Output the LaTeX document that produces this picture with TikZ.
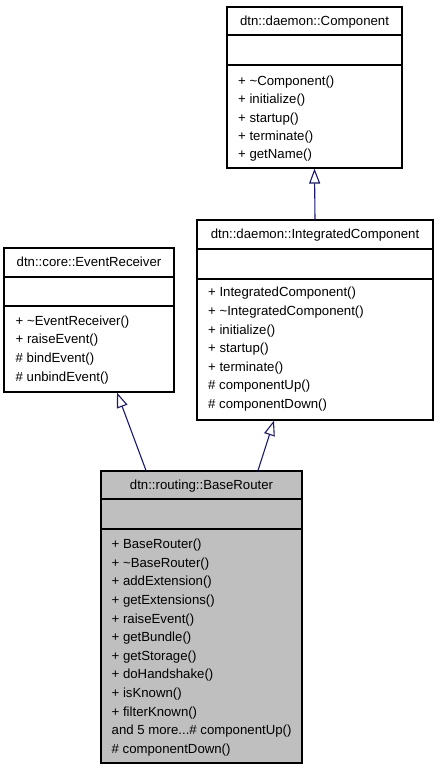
\documentclass[tikz,border=0pt]{standalone}
\usepackage{fontspec}
\setmainfont{Liberation Sans}
\usetikzlibrary{arrows.meta}
\definecolor{edgeblue}{HTML}{191970}
\definecolor{classgray}{HTML}{BFBFBF}
\newcommand{\moredots}{...}

\begin{document}
\begin{tikzpicture}[x=1bp,y=-1bp]
    % Stili per le classi e le frecce
    \tikzset{
        class box/.style 2 args={
            draw=black,
            line width=1.1bp,
            inner sep=0pt,
            minimum width=#1,
            minimum height=#2
        },
        class title/.style={
            anchor=base,
            inner sep=0pt,
            font=\fontsize{13.2bp}{15bp}\selectfont
        },
        member/.style={
            anchor=base west,
            inner sep=0pt,
            font=\fontsize{13.2bp}{15bp}\selectfont
        },
        sep line/.style={draw=black, line width=1.1bp},
        inherit/.style={
            draw=edgeblue,
            line width=1.1bp,
            -{Triangle[open, length=15bp, width=11bp]}
        }
    }
    \useasboundingbox (0,0) rectangle (437,771);

    % dtn::daemon::Component
    \node[class box={175bp}{161bp}, fill=white] (comp) at (314.5,87.5) {};
    \node[class title] (comp-title) at (314.5,25.5) {dtn::daemon::Component};
    \draw[sep line] (227,35) -- (402,35);
    \draw[sep line] (227,65) -- (402,65);
    \foreach \m [count=\i from 0] in {+ \textasciitilde Component(), + initialize(),
        + startup(), + terminate(), + getName()}
        \node[member] (comp-m\i) at (238,85.2+18.4*\i) {\m};

    % dtn::daemon::IntegratedComponent
    \node[class box={236bp}{200bp}, fill=white] (intc) at (315,320) {};
    \node[class title] (intc-title) at (315,238.2) {dtn::daemon::IntegratedComponent};
    \draw[sep line] (197,249) -- (433,249);
    \draw[sep line] (197,279) -- (433,279);
    \foreach \m [count=\i from 0] in {+ IntegratedComponent(), + \textasciitilde IntegratedComponent(),
        + initialize(), + startup(), + terminate(), \# componentUp(), \# componentDown()}
        \node[member] (intc-m\i) at (208,296.8+18.6*\i) {\m};

    % dtn::core::EventReceiver
    \node[class box={170bp}{144bp}, fill=white] (evr) at (89,320) {};
    \node[class title] (evr-title) at (89,266.2) {dtn::core::EventReceiver};
    \draw[sep line] (4,277) -- (174,277);
    \draw[sep line] (4,306) -- (174,306);
    \foreach \m [count=\i from 0] in {+ \textasciitilde EventReceiver(), + raiseEvent(),
        \# bindEvent(), \# unbindEvent()}
        \node[member] (evr-m\i) at (15.5,325.2+18.7*\i) {\m};

    % dtn::routing::BaseRouter
    \node[class box={201bp}{292bp}, fill=classgray] (router) at (201.5,617) {};
    \node[class title] (router-title) at (201.5,489.2) {dtn::routing::BaseRouter};
    \draw[sep line] (101,499) -- (302,499);
    \draw[sep line] (101,529) -- (302,529);
    \foreach \m [count=\i from 0] in {+ BaseRouter(), + \textasciitilde BaseRouter(),
        + addExtension(), + getExtensions(), + raiseEvent(), + getBundle(),
        + getStorage(), + doHandshake(), + isKnown(), + filterKnown(),
        and 5 more\moredots\# componentUp(), \# componentDown()}
        \node[member] (router-m\i) at (111.5,548.5+18.64*\i) {\m};

    % Ereditarieta
    \draw[inherit] (intc.north) -- (comp.south);
    \draw[inherit] ([xshift=-55.5bp]router.north) -- ([xshift=28bp]evr.south);
    \draw[inherit] ([xshift=56.5bp]router.north) -- ([xshift=-41bp]intc.south);
\end{tikzpicture}
\end{document}
